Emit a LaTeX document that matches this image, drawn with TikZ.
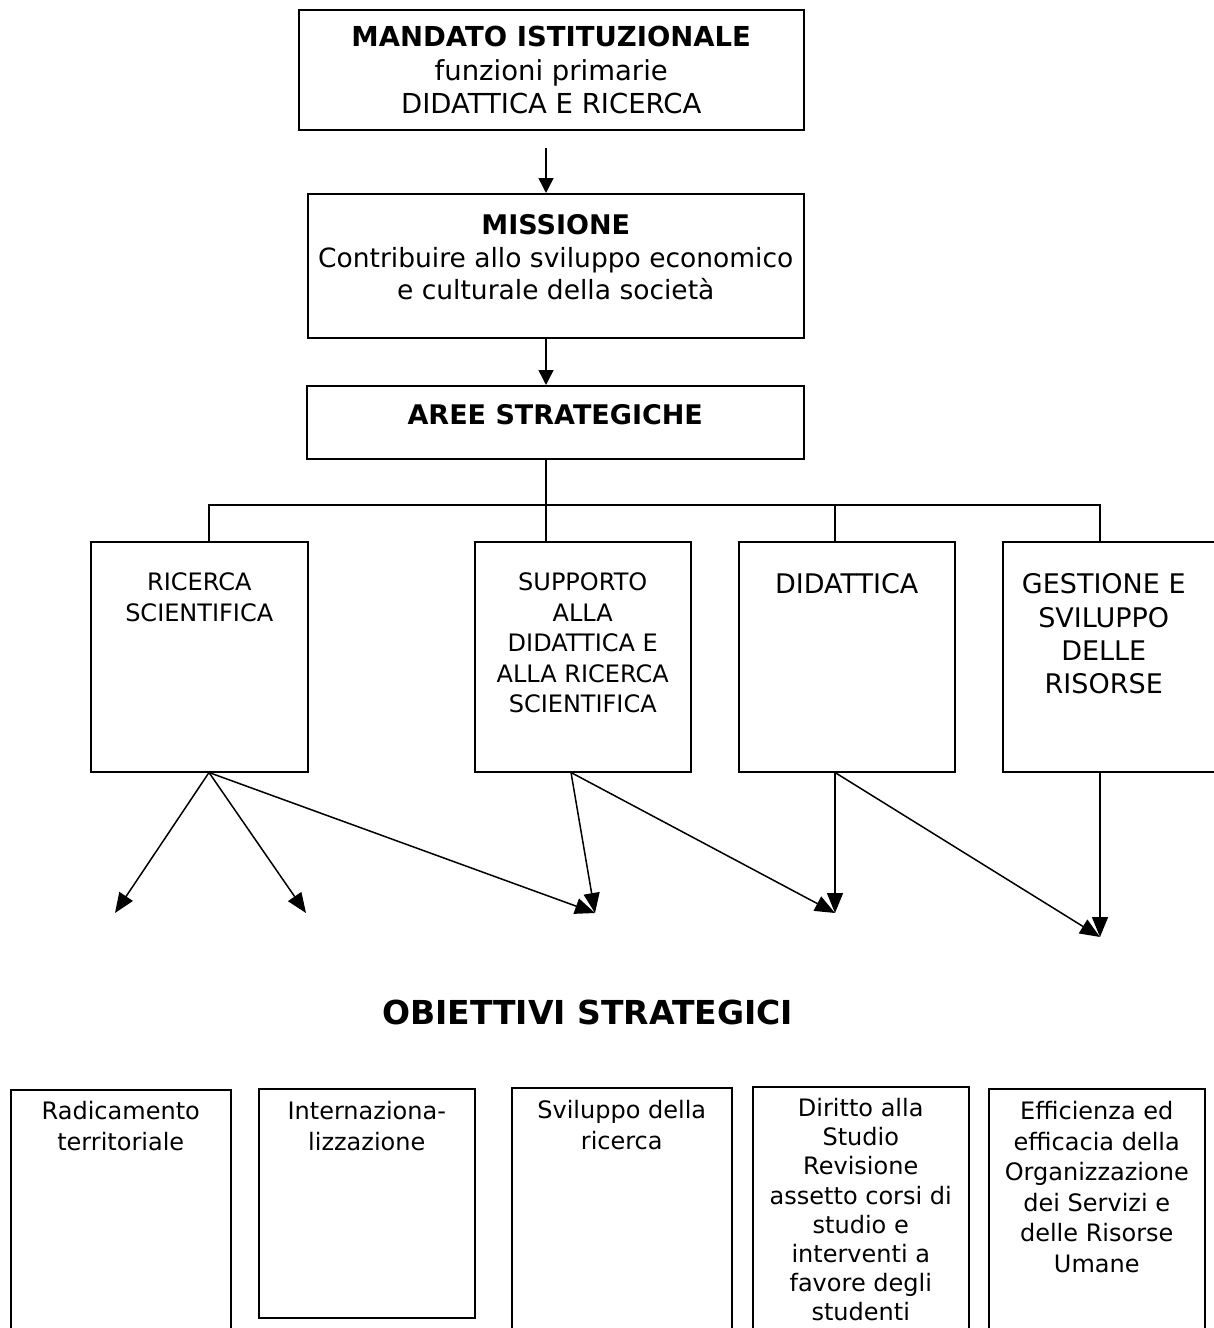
\documentclass[tikz,border=0pt]{standalone}
\usepackage{fontspec}
\setmainfont{DejaVu Sans}
\usetikzlibrary{arrows.meta,calc}
\newcommand\bxt[4]{\parbox[c][#2][t]{#1}{\centering\rule{0pt}{#3}#4}}
\begin{document}
\begin{tikzpicture}[x=1pt,y=-1pt,
  box/.style={draw, line width=1.5pt, inner sep=0pt, anchor=north west},
  arr/.style={-{Triangle[length=20pt,width=16pt]}, line width=1.5pt},
  sarr/.style={-{Triangle[length=15pt,width=15pt]}, line width=1.5pt},
  ln/.style={line width=1.5pt}]
\useasboundingbox (0,0) rectangle (1214,1328);
\clip (0,0) rectangle (1214,1328);

% top chain
\node[box] (mand) at (298,9) {\bxt{505pt}{120pt}{37pt}{\fontsize{27.5}{33.5}\selectfont\textbf{MANDATO ISTITUZIONALE}\\funzioni primarie\\DIDATTICA E RICERCA}};
\node[box] (miss) at (307,193) {\bxt{496pt}{144pt}{41pt}{\fontsize{26.5}{32.5}\selectfont{\bfseries\fontsize{27}{32.5}\selectfont MISSIONE}\\Contribuire allo sviluppo economico\\e culturale della società}};
\node[box] (aree) at (306,385) {\bxt{497pt}{73pt}{39pt}{\fontsize{27}{32}\selectfont\textbf{AREE STRATEGICHE}}};

\coordinate (c1) at (546,148);
\coordinate (ja) at (209,505);
\coordinate (jb) at (546,505);
\coordinate (jc) at (835,505);
\coordinate (jd) at (1100,505);
\coordinate (xs) at (571,505);

\draw[sarr] (c1) -- (c1 |- miss.north);
\draw[sarr] (jb |- miss.south) -- (jb |- aree.north);

% middle boxes
\node[box] (ric) at (90,541) {\bxt{217pt}{230pt}{49pt}{\fontsize{24}{31}\selectfont RICERCA\\SCIENTIFICA}};
\node[box] (sup) at (474,541) {\bxt{216pt}{230pt}{49pt}{\fontsize{24}{30.5}\selectfont SUPPORTO\\ALLA\\DIDATTICA E\\ALLA RICERCA\\SCIENTIFICA}};
\node[box] (did) at (738,541) {\bxt{216pt}{230pt}{52pt}{\fontsize{27}{33}\selectfont DIDATTICA}};
\node[box] (ges) at (1002,541) {\bxt{220pt}{230pt}{52pt}{\rightskip=18pt plus 1fil\fontsize{27}{33.3}\selectfont GESTIONE E\\SVILUPPO\\DELLE\\RISORSE}};

% tree
\draw[ln] (ja |- ric.north) -- (ja) -- (jd) -- (jd |- ges.north);
\draw[ln] (jb |- aree.south) -- (jb) -- (jb |- sup.north);
\draw[ln] (jc) -- (jc |- did.north);

% arrow tips
\coordinate (t1) at (115,913);
\coordinate (t2) at (306,913);
\coordinate (t3) at (595,913);
\coordinate (t4) at (835,913);
\coordinate (t5) at (1100,937);

\draw[arr] (ja |- ric.south) -- (t1);
\draw[arr] (ja |- ric.south) -- (t2);
\draw[arr] (ja |- ric.south) -- (t3);
\draw[arr] (xs |- sup.south) -- (t3);
\draw[arr] (xs |- sup.south) -- (t4);
\draw[arr] (jc |- did.south) -- (t4);
\draw[arr] (jc |- did.south) -- (t5);
\draw[arr] (jd |- ges.south) -- (t5);

% title
\node[anchor=base, inner sep=0pt] (obj) at (587.5,1024) {\fontsize{33}{40}\selectfont\bfseries OBIETTIVI STRATEGICI};

% bottom boxes
\node[box] (b1) at (10,1089) {\bxt{220pt}{260pt}{30pt}{\fontsize{24}{30.5}\selectfont Radicamento\\territoriale}};
\node[box] (b2) at (258,1088) {\bxt{216pt}{229pt}{31pt}{\fontsize{24}{30.5}\selectfont Internaziona-\\lizzazione}};
\node[box] (b3) at (511,1087) {\bxt{220pt}{260pt}{31pt}{\fontsize{24}{30.5}\selectfont Sviluppo della\\ricerca}};
\node[box] (b4) at (752,1086) {\bxt{216pt}{260pt}{30pt}{\fontsize{24}{29.1}\selectfont Diritto alla\\Studio\\Revisione\\assetto corsi di\\studio e\\interventi a\\favore degli\\studenti}};
\node[box] (b5) at (988,1088) {\bxt{216pt}{260pt}{31pt}{\fontsize{24}{30.5}\selectfont Efficienza ed\\efficacia della\\Organizzazione\\dei Servizi e\\delle Risorse\\Umane}};
\end{tikzpicture}
\end{document}
